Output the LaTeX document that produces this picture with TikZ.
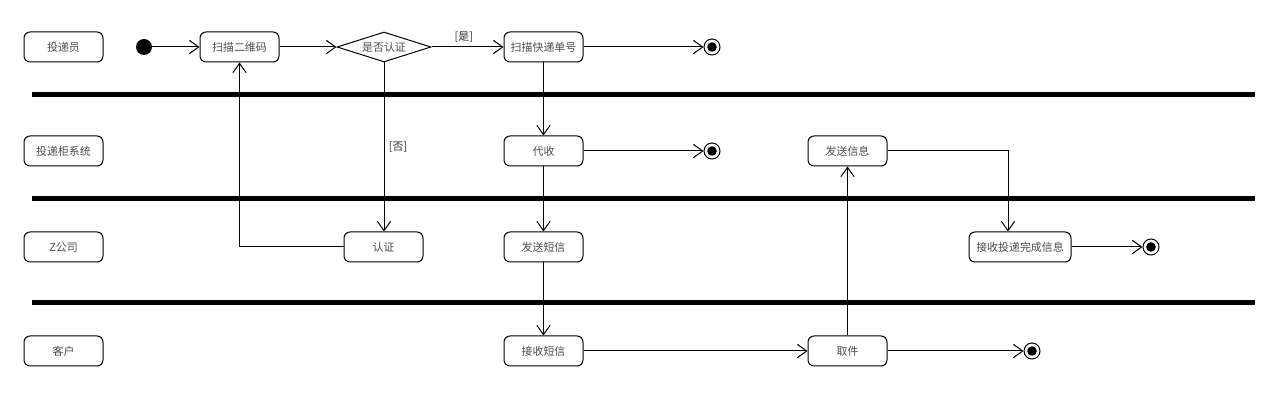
\documentclass[tikz,border=0pt]{standalone}
\usepackage{fontspec}
\setmainfont{Noto Sans CJK SC}
\usetikzlibrary{arrows.meta,shapes.geometric}
\begin{document}
\begin{tikzpicture}[x=0.75pt,y=-0.75pt,
  every node/.style={font=\fontsize{8.2pt}{10pt}\selectfont, text=black!70},
  act/.style={draw=black, line width=0.75pt, rounded corners=4.5pt, minimum width=59.25pt, minimum height=22.5pt, inner sep=0pt},
  lane/.style={act},
  dec/.style={draw=black, line width=0.75pt, diamond, aspect=3, minimum width=70.5pt, minimum height=22.5pt, inner sep=0pt},
  startnode/.style={circle, fill=black, minimum size=12pt, inner sep=0pt},
  endnode/.style={circle, draw=black, line width=0.75pt, fill=white, minimum size=12pt, inner sep=0pt,
     path picture={\fill[black] (path picture bounding box.center) circle (3.6pt);}},
  flow/.style={draw=black, line width=0.75pt, -{Straight Barb[length=7pt,width=10pt,line width=0.75pt]}},
  sep/.style={line width=3.75pt, draw=black},
  guard/.style={text=black!80}
]
\useasboundingbox (0,0) rectangle (1282,409);
% lane labels
\node[lane] (l1) at (63.5,47) {投递员};
\node[lane] (l2) at (63.5,151) {投递柜系统};
\node[lane] (l3) at (63.5,247) {Z公司};
\node[lane] (l4) at (63.5,351) {客户};
% separators
\coordinate (s1a) at (32,95); \coordinate (s1b) at (1255,95);
\coordinate (s2a) at (32,199); \coordinate (s2b) at (1255,199);
\coordinate (s3a) at (32,303); \coordinate (s3b) at (1255,303);
\draw[sep] (s1a) -- (s1b);
\draw[sep] (s2a) -- (s2b);
\draw[sep] (s3a) -- (s3b);
% nodes
\node[startnode] (start) at (144,47) {};
\node[act] (scanqr) at (239.5,47) {扫描二维码};
\node[dec] (auth?) at (384,47) {是否认证};
\node[act] (scanno) at (543.5,47) {扫描快递单号};
\node[endnode] (e1) at (712,47) {};
\node[act] (daishou) at (543.5,151) {代收};
\node[endnode] (e2) at (712,151) {};
\node[act] (sendinfo) at (847.5,151) {发送信息};
\node[act] (auth) at (383.5,247) {认证};
\node[act] (sendsms) at (543.5,247) {发送短信};
\node[act, minimum width=76.5pt] (recvdone) at (1020,247) {接收投递完成信息};
\node[endnode] (e3) at (1151,247) {};
\node[act] (recvsms) at (543.5,351) {接收短信};
\node[act] (pick) at (847.5,351) {取件};
\node[endnode] (e4) at (1032,351) {};
% flows
\draw[flow] (start) -- (scanqr);
\draw[flow] (scanqr) -- (auth?);
\draw[flow] (auth?) -- node[guard, above, pos=0.45] {[是]} (scanno);
\draw[flow] (scanno) -- (e1);
\draw[flow] (scanno) -- (daishou);
\draw[flow] (daishou) -- (e2);
\draw[flow] (auth?.south) -- node[guard, right, pos=0.5] {[否]} (auth.north -| auth?.south);
\draw[flow] (auth.west) -| (scanqr.south);
\draw[flow] (daishou) -- (sendsms);
\draw[flow] (sendsms) -- (recvsms);
\draw[flow] (recvsms) -- (pick);
\draw[flow] (pick.north) -- (sendinfo.south);
\coordinate (turn) at (1008,151);
\draw[flow] (sendinfo.east) -- (turn) -- (turn |- recvdone.north);
\draw[flow] (recvdone) -- (e3);
\draw[flow] (pick) -- (e4);
\end{tikzpicture}
\end{document}
